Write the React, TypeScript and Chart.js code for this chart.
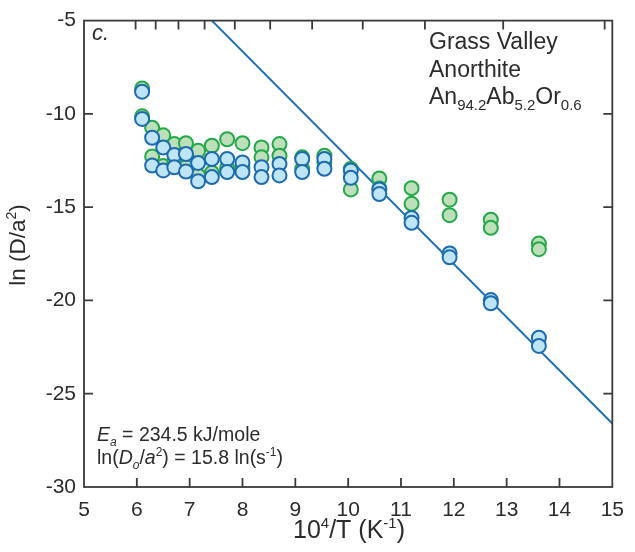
import React, { useEffect, useRef } from "react";
import { Chart, registerables } from "chart.js";

Chart.register(...registerables);

// ---- data ----
const stepX = [
  6.1, 6.1, 6.29, 6.29, 6.5, 6.5, 6.71, 6.71, 6.93, 6.93, 7.16, 7.16, 7.42, 7.42,
  7.71, 7.71, 8.0, 8.0, 8.36, 8.36, 8.7, 8.7, 9.13, 9.13, 9.55, 9.55, 10.05, 10.05,
  10.59, 10.59, 11.2, 11.2, 11.92, 11.92, 12.7, 12.7, 13.61, 13.61,
];
const greenY = [
  -8.64, -10.13, -10.75, -12.28, -11.15, -12.8, -11.62, -12.62, -11.57, -12.85,
  -11.98, -13.3, -11.71, -13.15, -11.36, -12.9, -11.57, -12.9, -11.8, -12.33,
  -11.62, -12.24, -12.33, -12.95, -12.24, -12.6, -12.95, -14.05, -13.46, -14.0,
  -13.98, -14.82, -14.6, -15.43, -15.67, -16.11, -16.95, -17.25,
];
const blueY = [
  -8.81, -10.27, -11.28, -12.77, -11.8, -13.03, -12.2, -12.86, -12.15, -13.09,
  -12.63, -13.61, -12.42, -13.39, -12.42, -13.12, -12.6, -13.12, -12.86, -13.39,
  -12.68, -13.3, -12.42, -13.12, -12.42, -12.94, -13.03, -13.43, -14.05, -14.3,
  -15.58, -15.84, -17.48, -17.69, -19.98, -20.15, -22.0, -22.44,
];
const fitX = [7.42, 15];
const fitY = [-5, -26.6];
const xMin = 5;
const xMax = 15;
const yMin = -30;
const yMax = -5;
const xStep = 1;
const yStep = 5;
const topTempC = [1400, 1300, 1200, 1100, 1000, 900, 800, 700, 600, 500, 400];

const FONT = '"Liberation Sans", Arial, Helvetica, sans-serif';
const TEXT = "#2b2b2b";
const FRAME = "#3a3a3a";

type Seg = { t: string; s?: "sub" | "sup"; i?: boolean };

function drawRich(
  ctx: CanvasRenderingContext2D,
  segs: Seg[],
  x: number,
  y: number,
  size: number,
  align: "left" | "center" = "left",
  ratio = 0.64
) {
  const fontFor = (sg: Seg) =>
    `${sg.i ? "italic " : ""}${sg.s ? Math.round(size * ratio) : size}px ${FONT}`;
  let total = 0;
  for (const sg of segs) {
    ctx.font = fontFor(sg);
    total += ctx.measureText(sg.t).width;
  }
  let cx = align === "center" ? x - total / 2 : x;
  ctx.textAlign = "left";
  ctx.textBaseline = "alphabetic";
  for (const sg of segs) {
    ctx.font = fontFor(sg);
    const dy = sg.s === "sub" ? size * 0.28 : sg.s === "sup" ? -size * 0.42 : 0;
    ctx.fillText(sg.t, cx, y + dy);
    cx += ctx.measureText(sg.t).width;
  }
}

const framePlugin = {
  id: "frameAndText",
  afterDraw(chart: any) {
    const ctx: CanvasRenderingContext2D = chart.ctx;
    const { left, right, top, bottom } = chart.chartArea;
    const xs = chart.scales.x;
    const ys = chart.scales.y;
    const TL = 9;
    ctx.save();
    ctx.strokeStyle = FRAME;
    ctx.lineWidth = 1.8;
    ctx.strokeRect(left, top, right - left, bottom - top);
    ctx.beginPath();
    // bottom inward ticks
    for (let v = xMin + xStep; v < xMax; v += xStep) {
      const px = xs.getPixelForValue(v);
      ctx.moveTo(px, bottom);
      ctx.lineTo(px, bottom - TL);
    }
    // left and right inward ticks
    for (let v = yMin + yStep; v < yMax; v += yStep) {
      const py = ys.getPixelForValue(v);
      ctx.moveTo(left, py);
      ctx.lineTo(left + TL, py);
      ctx.moveTo(right, py);
      ctx.lineTo(right - TL, py);
    }
    // top ticks: temperature in °C
    for (const t of topTempC) {
      const px = xs.getPixelForValue(1e4 / (t + 273.15));
      ctx.moveTo(px, top);
      ctx.lineTo(px, top + TL);
    }
    ctx.stroke();

    ctx.fillStyle = TEXT;
    // panel letter
    drawRich(ctx, [{ t: "c.", i: true }], left + 8, top + 19, 22);
    // sample text
    drawRich(ctx, [{ t: "Grass Valley" }], 429, 49, 23);
    drawRich(ctx, [{ t: "Anorthite" }], 429, 77, 23);
    drawRich(
      ctx,
      [
        { t: "An" },
        { t: "94.2", s: "sub" },
        { t: "Ab" },
        { t: "5.2", s: "sub" },
        { t: "Or" },
        { t: "0.6", s: "sub" },
      ],
      429,
      104,
      23,
      "left",
      0.66
    );
    // fit annotation
    drawRich(
      ctx,
      [{ t: "E", i: true }, { t: "a", s: "sub", i: true }, { t: " = 234.5 kJ/mole" }],
      97,
      441,
      19.5
    );
    drawRich(
      ctx,
      [
        { t: "ln(" },
        { t: "D", i: true },
        { t: "o", s: "sub", i: true },
        { t: "/" },
        { t: "a", i: true },
        { t: "2", s: "sup" },
        { t: ") = 15.8 ln(s" },
        { t: "-1", s: "sup" },
        { t: ")" },
      ],
      97,
      464,
      19.5
    );
    // axis titles
    drawRich(
      ctx,
      [{ t: "10" }, { t: "4", s: "sup" }, { t: "/T (K" }, { t: "-1", s: "sup" }, { t: ")" }],
      349,
      538,
      25,
      "center",
      0.6
    );
    ctx.save();
    ctx.translate(25, 245);
    ctx.rotate(-Math.PI / 2);
    drawRich(ctx, [{ t: "ln (D/a" }, { t: "2", s: "sup" }, { t: ")" }], 0, 0, 22.5, "center", 0.62);
    ctx.restore();
    ctx.restore();
  },
};

export default function App() {
  const ref = useRef<HTMLCanvasElement | null>(null);
  useEffect(() => {
    if (!ref.current) return;
    const chart = new Chart(ref.current, {
      type: "scatter",
      data: {
        datasets: [
          {
            label: "blue",
            data: stepX.map((x, i) => ({ x, y: blueY[i] })),
            backgroundColor: "#bee5f5",
            borderColor: "#1c6bb0",
            pointRadius: 7,
            pointBorderWidth: 2,
            pointHoverRadius: 7,
          },
          {
            label: "green",
            data: stepX.map((x, i) => ({ x, y: greenY[i] })),
            backgroundColor: "#bddfba",
            borderColor: "#23aa48",
            pointRadius: 7,
            pointBorderWidth: 2,
            pointHoverRadius: 7,
          },
          {
            type: "line",
            label: "fit",
            data: fitX.map((x, i) => ({ x, y: fitY[i] })),
            borderColor: "#1f6fb4",
            borderWidth: 2,
            pointRadius: 0,
            showLine: true,
            fill: false,
          } as any,
        ],
      },
      options: {
        animation: false,
        responsive: false,
        devicePixelRatio: 1,
        layout: { padding: { left: 0, right: 13, top: 13, bottom: 0 } },
        plugins: { legend: { display: false }, tooltip: { enabled: false } },
        scales: {
          x: {
            type: "linear",
            min: xMin,
            max: xMax,
            grid: { display: false, drawTicks: false },
            border: { display: false },
            ticks: {
              stepSize: xStep,
              autoSkip: false,
              maxRotation: 0,
              padding: 11,
              color: TEXT,
              font: { family: FONT, size: 21 },
            },
            afterFit(s: any) {
              s.height = 65;
            },
          },
          y: {
            type: "linear",
            min: yMin,
            max: yMax,
            grid: { display: false, drawTicks: false },
            border: { display: false },
            ticks: {
              stepSize: yStep,
              padding: 8,
              color: TEXT,
              font: { family: FONT, size: 21 },
            },
            afterFit(s: any) {
              s.width = 84;
            },
          },
        },
      },
      plugins: [framePlugin],
    });
    return () => chart.destroy();
  }, []);
  return (
    <div style={{ position: "fixed", left: 0, top: 0, width: 635, height: 552, background: "#fff" }}>
      <canvas ref={ref} width={635} height={552} style={{ display: "block" }} />
    </div>
  );
}
